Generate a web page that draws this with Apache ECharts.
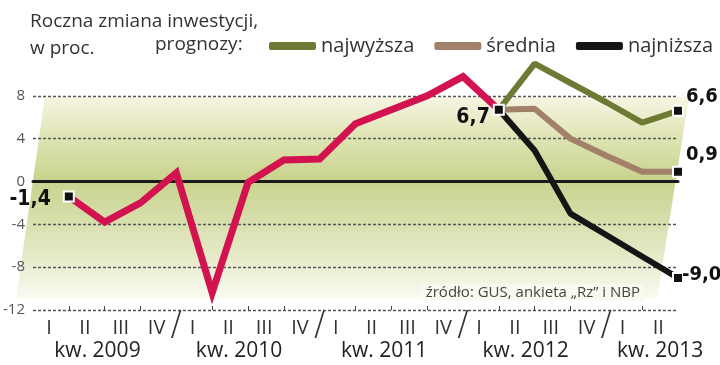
<!DOCTYPE html>
<html><head><meta charset="utf-8">
<script src="https://cdn.jsdelivr.net/npm/echarts@6/dist/echarts.min.js"></script>
<style>html,body{margin:0;padding:0;background:#fff}#c{width:720px;height:365px}</style>
</head><body><div id="c"></div>
<script>
const quarterLabels = ['I','II','III','IV','I','II','III','IV','I','II','III','IV','I','II','III','IV','I','II'];
const yearLabels = ['kw. 2009','kw. 2010','kw. 2011','kw. 2012','kw. 2013'];
const actual = [-1.4, -3.8, -2.0, 0.8, -10.4, -0.1, 2.0, 2.1, 5.4, 6.7, 8.0, 9.8, 6.7];
const forecastHigh = [6.7, 11.0, 9.2, 7.4, 5.5, 6.6];
const forecastMid = [6.7, 6.8, 4.0, 2.4, 0.9, 0.9];
const forecastLow = [6.7, 2.9, -3.0, -5.0, -7.0, -9.0];
const seriesNames = ['najwyższa', 'średnia', 'najniższa'];
const yTicks = [-12, -8, -4, 0, 4, 8];

const FONT = 'Open Sans';
const BOLD = 'DejaVu Sans Condensed';
const fmt = v => v.toFixed(1).replace('.', ',');

const forecastStart = actual.length; // position of last actual point
function pairs(arr, start) { return arr.map((v, i) => [start + i, v]); }

const markerStyle = { color: '#111', borderColor: '#fff', borderWidth: 2 };
function endLabelData(arr, start, offset) {
  const d = pairs(arr, start).map(p => ({ value: p, symbol: 'none' }));
  const last = d[d.length - 1];
  last.symbol = 'rect';
  last.symbolSize = 10;
  last.itemStyle = markerStyle;
  last.label = { show: true, position: 'right', distance: 2, offset: offset,
    formatter: fmt(arr[arr.length - 1]), fontFamily: BOLD, fontWeight: 'bold', fontSize: 20, color: '#111' };
  return d;
}

const actualData = pairs(actual, 1).map(p => ({ value: p, symbol: 'none' }));
[0, actual.length - 1].forEach((idx, k) => {
  actualData[idx].symbol = 'rect';
  actualData[idx].symbolSize = 10;
  actualData[idx].itemStyle = markerStyle;
  actualData[idx].label = { show: true, position: 'left', distance: k === 0 ? 12 : 3, offset: k === 0 ? [0, 3] : [0, 8],
    formatter: fmt(actual[idx]), fontFamily: BOLD, fontWeight: 'bold', fontSize: 21, color: '#111' };
});

const chart = echarts.init(document.getElementById('c'));
chart.setOption({
  animation: false,
  backgroundColor: '#fff',
  title: [
    { text: 'Roczna zmiana inwestycji,\nw proc.', left: 25, top: 3,
      textStyle: { fontFamily: FONT, fontSize: 19, fontWeight: 'normal', color: '#333', lineHeight: 27 } },
    { text: 'prognozy:', left: 150, top: 30,
      textStyle: { fontFamily: FONT, fontSize: 19, fontWeight: 'normal', color: '#333' } },
    { text: 'źródło: GUS, ankieta „Rz” i NBP', right: 76, top: 284, padding: [1, 4],
      backgroundColor: 'rgba(250,250,240,0.9)',
      textStyle: { fontFamily: FONT, fontSize: 15, fontWeight: 'normal', color: '#444' } }
  ],
  legend: {
    data: seriesNames, left: 264, top: 31, itemWidth: 47, itemHeight: 8, itemGap: 20,
    icon: 'roundRect',
    textStyle: { fontFamily: FONT, fontSize: 20, color: '#333' }
  },
  grid: { left: 31, right: 42, top: 53, height: 257 },
  xAxis: [
    { type: 'value', min: 0, max: 18, splitLine: { show: false },
      axisLine: { show: true, onZero: true, lineStyle: { color: '#1a1a1a', width: 3 } },
      axisTick: { show: false }, axisLabel: { show: false } },
    { type: 'value', min: 0, max: 18, position: 'bottom', splitLine: { show: false },
      axisLine: { show: false, onZero: false },
      axisTick: { show: true, inside: true, length: 4, customValues: [1,2,3,5,6,7,9,10,11,13,14,15,17],
        lineStyle: { color: '#444', width: 1 } },
      axisLabel: { show: true, margin: 8, customValues: quarterLabels.map((q, i) => i + 0.45),
        formatter: v => quarterLabels[Math.floor(v)],
        fontFamily: FONT, fontSize: 20, color: '#333' } },
    { type: 'value', min: 0, max: 18, position: 'bottom', splitLine: { show: false },
      axisLine: { show: false, onZero: false }, axisTick: { show: false },
      axisLabel: { show: true, margin: -1, customValues: [4, 8, 12, 16], formatter: () => '/',
        fontFamily: 'DejaVu Sans ExtraLight, DejaVu Sans', fontWeight: 200, fontSize: 34, color: '#333' } },
    { type: 'value', min: 0, max: 18, position: 'bottom', splitLine: { show: false },
      axisLine: { show: false, onZero: false }, axisTick: { show: false },
      axisLabel: { show: true, margin: 31, customValues: [1.8, 5.75, 9.8, 13.75, 17.5],
        formatter: v => yearLabels[Math.min(Math.floor(v / 4), yearLabels.length - 1)],
        fontFamily: FONT, fontSize: 21, color: '#222' } }
  ],
  yAxis: {
    type: 'value', min: -12, max: 12, interval: 4,
    axisLine: { show: false }, axisTick: { show: false },
    axisLabel: { showMaxLabel: false, margin: 8, fontFamily: FONT, fontSize: 15, color: '#555',
      formatter: v => (yTicks.includes(v) ? String(v) : '') },
    splitLine: { show: true, showMaxLine: false, lineStyle: { color: '#555', width: 1.3, type: [3, 2] } }
  },
  series: [
    { type: 'custom', name: 'bg', z: -2, silent: true, xAxisIndex: 0, data: [[0, 0]],
      renderItem: (params, api) => {
        const pts = [api.coord([0.33, 7.85]), api.coord([18.3, 7.85]), api.coord([17.42, -10.9]), api.coord([-0.47, -10.9])];
        return { type: 'polygon', z2: -10, shape: { points: pts }, style: {
          fill: new echarts.graphic.LinearGradient(0, 0, 0, 1, [
            { offset: 0, color: '#f6f5e2' },
            { offset: 0.2, color: '#dfe4b3' },
            { offset: 0.41, color: '#c8d38e' },
            { offset: 0.52, color: '#d0d99e' },
            { offset: 0.78, color: '#e5e9c6' },
            { offset: 1, color: '#fafaf2' }
          ]) } };
      } },
    { type: 'line', name: seriesNames[0], z: 2, xAxisIndex: 0, data: endLabelData(forecastHigh, forecastStart, [0, -14]),
      itemStyle: { color: '#6e7a34' }, lineStyle: { color: '#6e7a34', width: 6 } },
    { type: 'line', name: seriesNames[1], z: 2, xAxisIndex: 0, data: endLabelData(forecastMid, forecastStart, [0, -17]),
      itemStyle: { color: '#a2806a' }, lineStyle: { color: '#a2806a', width: 6 } },
    { type: 'line', name: seriesNames[2], z: 2, xAxisIndex: 0, data: endLabelData(forecastLow, forecastStart, [-4, -3]),
      itemStyle: { color: '#151515' }, lineStyle: { color: '#151515', width: 6 } },
    { type: 'line', name: 'actual', z: 3, xAxisIndex: 0, data: actualData,
      itemStyle: { color: '#d3134f' }, lineStyle: { color: '#d3134f', width: 7, join: 'miter' } }
  ]
});
</script></body></html>
